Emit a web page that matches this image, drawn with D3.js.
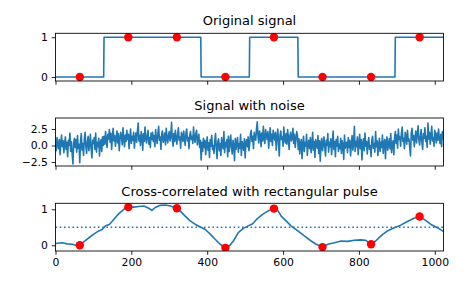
<!DOCTYPE html>
<html><head><meta charset="utf-8">
<script src="https://cdn.jsdelivr.net/npm/d3@7"></script>
<style>body{margin:0;background:#fff}svg{display:block}text{font-family:"DejaVu Sans",sans-serif;fill:#000}</style>
</head><body>
<script>
// ---- data ----
const segments = [0, 1, 1, 0, 1, 0, 0, 1];   // pulse train levels, 128 samples each
const segLen = 128;
const clock = [64, 192, 320, 448, 576, 704, 832, 960];
const xTicks = [0, 200, 400, 600, 800, 1000];
const titles = ["Original signal", "Signal with noise", "Cross-correlated with rectangular pulse"];
const sigTicks = [0, 1];
const noiseTicks = [-2.5, 0.0, 2.5];
const corrTicks = [0, 1];
const noiseStep = 2;
const noiseVals = [
 0.3,-0.8,1.2,0.1,-0.5,0.9,-1.4,0.4, 1.6,-0.2,0.7,-1.1,0.2,1.3,-0.6,0.5,
 -1.7,0.8,0.0,1.9,-0.9,0.6,-1.3,-2.8, 0.4,1.1,-0.3,0.9,-1.0,1.5,-0.4,0.2,
 -2.6,0.7,1.8,-0.7,0.3,-1.5,1.0,2.0, -0.1,-1.2,0.6,1.4,-0.8,0.1,1.7,-0.5,
 -1.9,0.8,0.3,1.2,-0.6,1.9,-1.0,0.5, -0.2,1.1,-1.6,0.4,0.9,-0.9,1.3,0.0,
 1.4,0.2,2.1,0.8,-0.3,1.7,1.0,2.4, 0.5,1.9,-0.6,1.2,2.6,0.7,1.5,-0.1,
 1.1,2.2,0.4,1.8,-0.8,0.9,2.0,1.3, 0.1,2.7,1.0,-0.2,1.6,0.6,2.3,0.9,
 1.7,-0.5,1.2,2.5,0.3,1.4,0.8,2.0, -0.4,1.1,1.9,0.5,2.2,3.4,0.7,1.5,
 0.0,2.1,1.3,-0.7,1.8,0.6,2.8,1.0, 0.4,1.6,2.3,0.2,1.2,-0.3,1.9,0.9,
 2.0,0.6,1.5,-0.2,2.4,1.1,0.3,1.8, 2.9,0.8,1.3,-0.6,1.7,2.2,0.5,1.0,
 1.9,0.1,2.6,1.2,0.4,1.6,2.1,0.7, 1.4,3.5,0.9,-0.1,1.8,0.6,2.3,1.1,
 0.2,1.7,2.7,0.8,1.3,-0.4,2.0,1.5, 0.6,2.2,1.0,0.0,1.9,2.5,0.7,1.2,
 -0.5,1.6,2.1,0.9,1.4,0.3,2.8,1.0, 0.5,1.8,2.3,0.1,1.1,1.7,-0.3,0.8,
 -2.2,0.5,-0.9,1.1,-0.3,0.8,-1.4,0.2, 1.3,-0.7,0.4,-1.8,0.9,-0.1,1.5,-0.6,
 0.0,-1.2,0.7,1.8,-0.4,-2.0,0.6,1.0, -0.8,0.3,-1.5,1.2,0.1,-0.5,2.1,-1.1,
 0.5,-0.2,0.9,-1.7,1.4,-0.9,0.2,1.6, -0.3,-1.3,0.8,0.0,-2.3,1.1,-0.6,0.4,
 1.2,-1.0,0.3,-0.4,1.7,-1.5,0.6,0.1, -0.7,1.0,-1.9,0.5,0.9,-0.2,1.3,-0.8,
 0.2,1.8,2.3,0.6,1.4,-0.5,2.0,1.1, 0.8,2.6,3.6,1.3,0.4,2.2,1.6,-0.2,
 1.9,0.7,2.9,1.0,0.3,2.4,1.5,0.9, 2.1,-0.4,1.2,2.7,0.6,1.7,0.0,2.3,
 1.4,0.8,2.0,-0.7,1.1,2.5,0.5,-1.6, 1.6,2.2,0.9,1.3,-0.1,2.8,1.0,0.4,
 1.8,0.2,2.4,1.2,-0.6,1.5,2.0,0.7, 1.1,2.6,0.3,1.7,-0.3,0.9,2.1,1.4,
 -0.6,1.0,-1.3,0.4,0.9,-2.0,0.2,1.4, -0.9,0.5,-0.1,1.7,-1.5,0.3,0.8,-0.5,
 1.2,-1.1,0.0,2.0,-0.7,0.6,-1.8,0.9, 0.1,-0.4,1.5,-1.2,0.7,-2.4,0.4,1.1,
 -0.8,0.2,1.3,-0.3,-1.6,0.8,0.0,1.8, -1.0,0.5,-0.2,1.0,-1.4,0.3,2.2,-0.6,
 0.6,-1.7,0.9,-0.1,1.4,-0.9,0.2,-0.5, 1.1,-1.2,0.7,0.1,-2.1,1.6,-0.4,0.3,
 0.5,-1.1,1.2,-0.3,0.8,-1.6,0.1,1.5, -0.7,0.4,2.9,-0.9,0.6,-0.2,1.3,-1.4,
 0.2,1.7,-0.5,0.9,-2.2,0.3,1.0,-0.8, 1.9,-0.1,0.6,-1.3,0.4,1.2,-0.6,0.0,
 -1.7,0.8,1.4,-0.4,0.3,-1.0,2.1,-0.2, 0.7,-1.5,0.1,1.1,-0.9,0.5,-0.3,1.6,
 -1.2,0.4,0.9,-2.0,0.6,1.3,-0.7,0.2, 1.0,-0.5,1.8,-1.1,0.3,0.7,-1.4,1.2,
 2.1,0.3,1.6,-0.4,2.5,0.9,1.3,-0.1, 1.8,2.8,0.6,1.1,-0.5,2.0,1.4,0.2,
 2.3,0.7,1.0,-0.3,-1.6,1.9,2.6,0.8, 1.5,-0.2,1.2,2.2,0.4,1.7,3.0,0.9,
 0.1,1.3,2.4,0.5,-0.6,1.8,1.1,2.7, 0.6,1.4,-0.3,3.4,1.0,2.0,0.2,1.5,
 2.9,0.7,1.2,-0.1,2.3,1.6,0.4,1.9, 0.8,2.5,1.0,0.3,1.7,-0.2,2.1,0.9
];
const corrX = [0,18,31,44,53,64,75,88,101,114,123,132,142,149,158,167,180,192,206,219,233,246,254,263,276,290,303,320,329,342,355,369,382,395,408,421,434,448,460,469,482,495,508,520,533,546,560,576,586,595,608,621,639,656,674,687,704,718,735,753,770,788,805,818,832,844,858,875,893,910,928,945,960,972,990,1007,1023];
const corrY = [0.05,0.07,0.04,0.03,0.0,0.0,0.10,0.21,0.31,0.40,0.44,0.54,0.58,0.66,0.77,0.88,1.0,1.06,1.06,1.08,1.09,1.03,0.97,1.05,1.11,1.12,1.09,1.03,0.95,0.81,0.68,0.58,0.51,0.44,0.31,0.17,0.03,-0.07,0.0,0.12,0.35,0.47,0.54,0.60,0.75,0.86,0.95,1.02,0.97,0.81,0.68,0.54,0.40,0.26,0.12,0.03,-0.05,0.03,0.07,0.12,0.11,0.14,0.15,0.14,0.03,0.12,0.26,0.40,0.49,0.56,0.66,0.75,0.80,0.72,0.58,0.49,0.38];
const corrDots = [0.0, 1.06, 1.03, -0.07, 1.02, -0.05, 0.03, 0.80];
const threshold = 0.5;

// ---- layout ----
const W = 465, H = 288;
const blue = "#1f77b4";
const lw = 1.6;
const dotR = 4.2;
const svg = d3.select("body").append("svg").attr("width", W).attr("height", H);
const x = d3.scaleLinear().domain([0, 1023]).range([55.5, 443.5]);

const panels = [
  {top: 33.3, bottom: 81, domain: [-0.1, 1.1], ticks: sigTicks, fmt: d3.format("d"), titleY: 25.3},
  {top: 118, bottom: 166, domain: [-3.11, 4.17], ticks: noiseTicks, fmt: d => d3.format(".1f")(d).replace("-", "\u2212"), titleY: 110.3},
  {top: 203.3, bottom: 251, domain: [-0.158, 1.167], ticks: corrTicks, fmt: d3.format("d"), titleY: 195.5}
];

panels.forEach((p, i) => {
  p.y = d3.scaleLinear().domain(p.domain).range([p.bottom, p.top]);
  p.g = svg.append("g");
  p.g.append("clipPath").attr("id", "clip" + i).append("rect")
    .attr("x", x.range()[0]).attr("y", p.top).attr("width", x.range()[1] - x.range()[0]).attr("height", p.bottom - p.top);
  p.data = p.g.append("g").attr("clip-path", `url(#clip${i})`);
});

// panel 0: original signal
const sig = segments.flatMap(v => d3.range(segLen).map(() => v));
const sigPts = sig.map((v, i) => [i, v]);
const p0 = panels[0];
p0.data.append("path").datum(sigPts)
  .attr("d", d3.line().x(d => x(d[0])).y(d => p0.y(d[1])))
  .attr("fill", "none").attr("stroke", blue).attr("stroke-width", lw).attr("stroke-linejoin", "round");
p0.data.selectAll("circle").data(clock).join("circle")
  .attr("cx", d => x(d)).attr("cy", d => p0.y(sig[d])).attr("r", dotR).attr("fill", "red");

// panel 1: noisy signal
const p1 = panels[1];
p1.data.append("path").datum(noiseVals)
  .attr("d", d3.line().x((d, i) => x(i * noiseStep)).y(d => p1.y(d)))
  .attr("fill", "none").attr("stroke", blue).attr("stroke-width", lw).attr("stroke-linejoin", "round");

// panel 2: correlation
const p2 = panels[2];
p2.data.append("path").datum(corrX.map((v, i) => [v, corrY[i]]))
  .attr("d", d3.line().x(d => x(d[0])).y(d => p2.y(d[1])))
  .attr("fill", "none").attr("stroke", blue).attr("stroke-width", lw).attr("stroke-linejoin", "round");
p2.data.append("line")
  .attr("x1", x.range()[0]).attr("x2", x.range()[1])
  .attr("y1", p2.y(threshold)).attr("y2", p2.y(threshold))
  .attr("stroke", blue).attr("stroke-width", lw).attr("stroke-dasharray", "1.6,2.64");
p2.data.selectAll("circle").data(clock).join("circle")
  .attr("cx", d => x(d)).attr("cy", (d, i) => p2.y(corrDots[i])).attr("r", dotR).attr("fill", "red");

// axes, spines, titles
panels.forEach((p, i) => {
  const xa = p.g.append("g").attr("transform", `translate(0,${p.bottom})`)
    .call(d3.axisBottom(x).tickValues(xTicks).tickSizeInner(3.8).tickSizeOuter(0).tickPadding(3.8)
      .tickFormat(i === 2 ? d3.format("d") : () => ""));
  const ya = p.g.append("g").attr("transform", `translate(${x.range()[0]},0)`)
    .call(d3.axisLeft(p.y).tickValues(p.ticks).tickSizeInner(3.8).tickSizeOuter(0).tickPadding(3.8).tickFormat(p.fmt));
  [xa, ya].forEach(a => {
    a.select(".domain").remove();
    a.selectAll(".tick line").attr("stroke", "#000").attr("stroke-width", 0.87);
    a.selectAll("text").attr("font-size", "10.8px").attr("font-family", "DejaVu Sans").attr("fill", "#000");
  });
  p.g.append("rect").attr("x", x.range()[0]).attr("y", p.top)
    .attr("width", x.range()[1] - x.range()[0]).attr("height", p.bottom - p.top)
    .attr("fill", "none").attr("stroke", "#000").attr("stroke-width", 0.87);
  p.g.append("text").attr("x", (x.range()[0] + x.range()[1]) / 2).attr("y", p.titleY)
    .attr("text-anchor", "middle").attr("font-size", "13px").text(titles[i]);
});
</script>
</body></html>
